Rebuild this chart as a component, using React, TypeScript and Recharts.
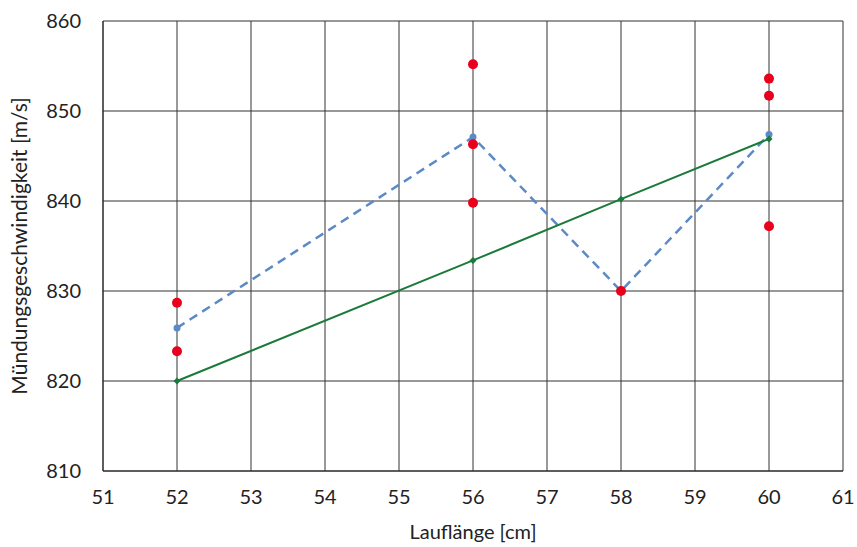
import { ComposedChart, Line, Scatter, XAxis, YAxis, CartesianGrid } from 'recharts';

// Lauflänge [cm] der Mittelwerte
const laenge = [52, 56, 58, 60];
// Mittelwert der Messungen (blau, gestrichelt)
const mittelwert = [825.9, 847.1, 830.0, 847.4];
// Trend (grün)
const trend = [820.0, 833.4, 840.2, 846.9];
// Einzelmessungen (rot)
const messLaenge = [52, 52, 56, 56, 56, 58, 60, 60, 60];
const messV0 = [828.7, 823.3, 855.2, 846.3, 839.8, 830.0, 853.6, 851.7, 837.2];

const xTicks = [51, 52, 53, 54, 55, 56, 57, 58, 59, 60, 61];
const yTicks = [810, 820, 830, 840, 850, 860];

const mittelData = laenge.map((x, i) => ({ x, y: mittelwert[i] }));
const trendData = laenge.map((x, i) => ({ x, y: trend[i] }));
const messData = messLaenge.map((x, i) => ({ x, y: messV0[i] }));

const font = "Lato, 'Open Sans', sans-serif";
const tickStyle = { fontSize: 20, fill: '#222', fontFamily: font };

function Diamond(props: any) {
    const { cx, cy } = props;
    if (cx == null || cy == null) return null;
    const r = 3.5;
    return (
        <path
            d={`M${cx},${cy - r}L${cx + r},${cy}L${cx},${cy + r}L${cx - r},${cy}Z`}
            fill="#1b7a3a"
        />
    );
}

export default function App() {
    return (
        <div style={{ position: 'absolute', left: 0, top: 0, background: '#fff' }}>
            <ComposedChart
                width={857}
                height={547}
                margin={{ top: 21, right: 14, bottom: 0, left: 0 }}
            >
                <CartesianGrid stroke="#333" strokeWidth={1} />
                <XAxis
                    dataKey="x"
                    type="number"
                    domain={[51, 61]}
                    ticks={xTicks}
                    allowDataOverflow
                    height={76}
                    tickLine={false}
                    tickSize={0}
                    tickMargin={19}
                    axisLine={{ stroke: '#222' }}
                    tick={tickStyle}
                    label={{
                        value: 'Lauflänge [cm]',
                        position: 'insideBottom',
                        offset: 8,
                        style: { fontSize: 20, fill: '#222', fontFamily: font },
                    }}
                />
                <YAxis
                    dataKey="y"
                    type="number"
                    domain={[810, 860]}
                    ticks={yTicks}
                    allowDataOverflow
                    width={103}
                    tickLine={false}
                    tickSize={0}
                    tickMargin={22}
                    axisLine={{ stroke: '#222' }}
                    tick={tickStyle}
                    label={{
                        value: 'Mündungsgeschwindigkeit [m/s]',
                        angle: -90,
                        position: 'insideLeft',
                        offset: 20,
                        style: { textAnchor: 'middle', fontSize: 21, fill: '#222', fontFamily: font },
                    }}
                />
                <Line
                    data={mittelData}
                    dataKey="y"
                    type="linear"
                    stroke="#5b8ac6"
                    strokeWidth={2.5}
                    strokeDasharray="9 6"
                    dot={{ r: 3.5, fill: '#5b8ac6', stroke: 'none' }}
                    activeDot={false}
                    isAnimationActive={false}
                />
                <Line
                    data={trendData}
                    dataKey="y"
                    type="linear"
                    stroke="#1b7a3a"
                    strokeWidth={2}
                    dot={<Diamond />}
                    activeDot={false}
                    isAnimationActive={false}
                />
                <Scatter
                    data={messData}
                    dataKey="y"
                    fill="#e8001c"
                    shape={(p: any) => <circle cx={p.cx} cy={p.cy} r={5} fill="#e8001c" />}
                    isAnimationActive={false}
                />
            </ComposedChart>
        </div>
    );
}
